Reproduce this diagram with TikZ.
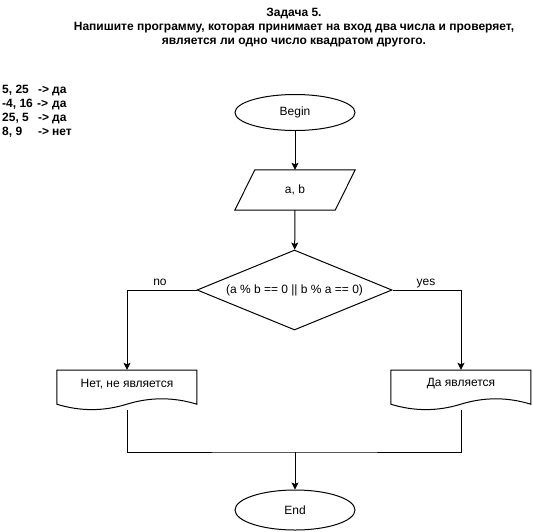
\documentclass[tikz,border=0pt]{standalone}
\usepackage{fontspec}
\setmainfont{Liberation Sans}
\usetikzlibrary{shapes.geometric,arrows.meta,calc}

% outline of a flowchart "document" box: flat top, wavy bottom
\newcommand\docoutline[1]{%
  \draw[line, shift={(#1.south west)}]
    (0pt,40pt) -- (140pt,40pt) -- (140pt,6pt)
    .. controls (116.67pt,13.2pt) and (93.33pt,13.2pt) .. (70pt,6pt)
    .. controls (46.67pt,-1.2pt) and (23.33pt,-1.2pt) .. (0pt,6pt) -- cycle;}

\begin{document}
\begin{tikzpicture}[x=1pt,y=-1pt,
  every node/.style={font=\fontsize{12}{14}\selectfont, text=black},
  line/.style={draw=black, line width=1pt},
  flow/.style={line, -{Stealth[length=7pt,width=7pt,inset=1.5pt]}},
  term/.style={ellipse, line, minimum width=120pt, minimum height=#1, inner sep=0pt},
  boxarea/.style={rectangle, draw=none, minimum width=#1, minimum height=40pt, inner sep=0pt},
  decision/.style={diamond, line, minimum width=195pt, minimum height=80pt, inner sep=0pt},
  heading/.style={font=\fontsize{12}{14}\selectfont\bfseries, inner sep=0pt},
]
\useasboundingbox (0,0) rectangle (533,531);

% heading
\node[heading, anchor=north, align=center] (title) at (294,7.5)
  {Задача 5.\\Напишите программу, которая принимает на вход два числа и проверяет,\\является ли одно число квадратом другого.};

% sample inputs and answers
\node[heading, anchor=north west, align=left] (samples) at (2,84.5)
  {\makebox[36pt][l]{5, 25}\makebox[14pt][l]{->}да\\
   \makebox[35pt][l]{-4, 16}\makebox[15pt][l]{->}да\\
   \makebox[36pt][l]{25, 5}\makebox[14pt][l]{->}да\\
   \makebox[36pt][l]{8, 9}\makebox[14pt][l]{->}нет};

% flowchart
\node[term=36pt] (begin) at (295,112.5) {Begin};

\node[boxarea=120pt] (inp) at (295,190) {a, b};
\draw[line] (inp.south west) -- ($(inp.north west)+(20pt,0pt)$)
  -- (inp.north east) -- ($(inp.south east)+(-20pt,0pt)$) -- cycle;

\node[decision, label=center:{(a \% b == 0 || b \% a == 0)}] (cond) at (294.5,290) {};

\node[boxarea=140pt, label={[yshift=6pt]center:Нет, не является}] (nodoc) at (127,390) {};
\docoutline{nodoc}
\node[boxarea=140pt, label={[yshift=6pt]center:Да является}] (yesdoc) at (461,390) {};
\docoutline{yesdoc}

\node[term=40pt] (finish) at (295,510) {End};

% connectors
\draw[flow] (begin) -- (inp);
\draw[flow] (inp) -- (cond);
\draw[flow] (cond.west) -| (nodoc.north);
\draw[flow] (cond.east) -| (yesdoc.north);
\node[anchor=base] (nolabel) at (160,285) {no};
\node[anchor=base] (yeslabel) at (426,285) {yes};

\coordinate (merge) at (295,452);
\draw[line] (nodoc.south) |- (merge) -| (yesdoc.south);
\draw[flow] (merge) -- (finish);
\end{tikzpicture}
\end{document}
